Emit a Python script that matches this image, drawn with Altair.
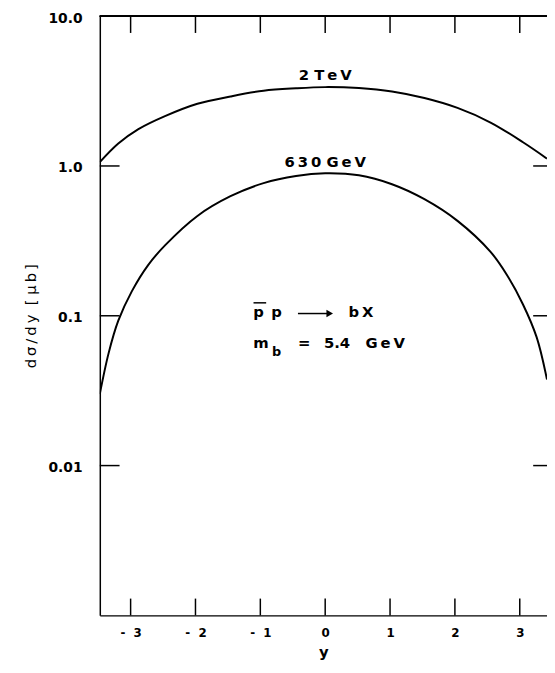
import altair as alt
import pandas as pd

# ---- data ----
x_2tev = [-3.475, -3.19, -2.88, -2.47, -1.97, -1.46, -0.95, -0.45, 0.0,
          0.52, 1.03, 1.53, 2.04, 2.55, 3.05, 3.42]
v_2tev = [1.06, 1.41, 1.76, 2.15, 2.60, 2.91, 3.18, 3.30, 3.36,
          3.31, 3.14, 2.84, 2.44, 1.95, 1.44, 1.12]

x_630 = [-3.475, -3.34, -3.19, -2.98, -2.73, -2.47, -1.97, -1.46, -0.95, -0.45, 0.0,
         0.52, 1.03, 1.53, 2.04, 2.55, 2.80, 3.05, 3.26, 3.42]
v_630 = [0.030, 0.0561, 0.0927, 0.146, 0.218, 0.295, 0.464, 0.628, 0.768, 0.857, 0.893,
         0.866, 0.755, 0.600, 0.430, 0.267, 0.188, 0.119, 0.072, 0.0375]

x_ticks = [-3, -2, -1, 0, 1, 2, 3]
y_ticks = [0.01, 0.1, 1.0, 10.0]
y_tick_labels = ["0.01", "0.1", "1.0", "10.0"]
x_domain = [-3.475, 3.42]
y_domain = [0.001, 10.0]

TS = "\u2009"   # thin space (letter spacing of the original lettering)
NB = "\u00a0"
curve_labels = ["2" + NB + "T" + TS + "e" + TS + "V", "6" + TS + "3" + TS + "0" + NB + "G" + TS + "e" + TS + "V"]
curve_label_x = [0.0, 0.0]
curve_label_y = [3.75, 0.985]

W, H = 453, 607
FONT = "DejaVu Sans"

df = pd.DataFrame(
    {"x": x_2tev + x_630,
     "v": v_2tev + v_630,
     "s": ["2 TeV"] * len(x_2tev) + ["630 GeV"] * len(x_630)}
)

xs = alt.Scale(domain=x_domain, nice=False, zero=False)
ys = alt.Scale(type="log", domain=y_domain, nice=False)

y_label_expr = "".join(f"abs(datum.value - {v}) < {v * 0.01} ? '{l}' : "
                       for v, l in zip(y_ticks, y_tick_labels)) + "datum.label"

lines = alt.Chart(df).mark_line(color="black", strokeWidth=2, interpolate="catmull-rom", clip=True).encode(
    x=alt.X("x:Q", scale=xs,
            axis=alt.Axis(values=x_ticks, tickSize=0, grid=False, domainColor="black", domainWidth=1.5,
                          labelFont=FONT, labelFontSize=12, labelFontWeight="bold", labelColor="black",
                          labelPadding=12,
                          labelExpr="datum.value < 0 ? '-\u00a0\u00a0' + abs(datum.value) : '' + datum.value",
                          title="y", titleFont=FONT, titleFontSize=15, titleFontWeight="bold",
                          titleColor="black", titleBaseline="alphabetic", titleY=42)),
    y=alt.Y("v:Q", scale=ys,
            axis=alt.Axis(values=y_ticks, tickSize=0, grid=False, domainColor="black", domainWidth=1.5,
                          labelFont=FONT, labelFontSize=14, labelFontWeight="bold", labelColor="black",
                          labelPadding=18, labelOffset=2,
                          labelExpr=y_label_expr,
                          title="d" + TS + "σ" + TS + "/" + TS + "d" + TS + "y" + NB + NB + "[" + NB + "μ" + TS + "b" + TS + "]",
                          titleFont=FONT, titleFontSize=15,
                          titleFontWeight="normal", titleColor="black",
                          titleX=-70, titleY=H / 2, titleAngle=270, titleAlign="center",
                          titleBaseline="middle")),
    detail="s:N",
)

tick_x_df = pd.DataFrame({"t": x_ticks})
tick_y_df = pd.DataFrame({"t": y_ticks[:3]})

top_ticks = alt.Chart(tick_x_df).mark_rule(color="black", strokeWidth=1.5).encode(
    x=alt.X("t:Q", scale=xs), y=alt.value(0), y2=alt.value(17))
bot_ticks = alt.Chart(tick_x_df).mark_rule(color="black", strokeWidth=1.5).encode(
    x=alt.X("t:Q", scale=xs), y=alt.value(H - 17), y2=alt.value(H))
left_ticks = alt.Chart(tick_y_df).mark_rule(color="black", strokeWidth=1.5).encode(
    y=alt.Y("t:Q", scale=ys), x=alt.value(0), x2=alt.value(20))
right_ticks = alt.Chart(tick_y_df).mark_rule(color="black", strokeWidth=1.5).encode(
    y=alt.Y("t:Q", scale=ys), x=alt.value(W - 14), x2=alt.value(W))
top_border = alt.Chart(tick_x_df).mark_rule(color="black", strokeWidth=1.5).encode(
    x=alt.value(0), x2=alt.value(W), y=alt.value(0))

lab_df = pd.DataFrame({"x": curve_label_x, "y": curve_label_y, "t": curve_labels})
curve_text = alt.Chart(lab_df).mark_text(font=FONT, fontSize=15, fontWeight="bold", align="center",
                                         baseline="alphabetic", color="black").encode(
    x=alt.X("x:Q", scale=xs), y=alt.Y("y:Q", scale=ys), text="t:N")

# annotation block:  p̄p ⟶ bX ,  m_b = 5.4 GeV
ann_x = [-1.11, -0.83, 0.36, -1.11, -0.42, -0.02, 0.62]
ann_y = [0.0985, 0.0985, 0.098, 0.0605, 0.0605, 0.0605, 0.0605]
ann_t = ["p", "p", "b" + TS + "X", "m", "=", "5.4", "G" + TS + "e" + TS + "V"]
ann_text = alt.Chart(pd.DataFrame({"x": ann_x, "y": ann_y, "t": ann_t})).mark_text(
    font=FONT, fontSize=15, fontWeight="bold", align="left", baseline="alphabetic", color="black").encode(
    x=alt.X("x:Q", scale=xs), y=alt.Y("y:Q", scale=ys), text="t:N")
ann_sub = alt.Chart(pd.DataFrame({"x": [-0.82], "y": [0.0538], "t": ["b"]})).mark_text(
    font=FONT, fontSize=13, fontWeight="bold", align="left", baseline="alphabetic", color="black").encode(
    x=alt.X("x:Q", scale=xs), y=alt.Y("y:Q", scale=ys), text="t:N")

bar_df = pd.DataFrame({"x": [-1.105], "x2": [-0.91], "y": [0.122]})
overbar = alt.Chart(bar_df).mark_rule(color="black", strokeWidth=1.5).encode(
    x=alt.X("x:Q", scale=xs), x2="x2:Q", y=alt.Y("y:Q", scale=ys))

arrow_df = pd.DataFrame({"x": [-0.42], "x2": [0.05], "y": [0.1035]})
arrow_line = alt.Chart(arrow_df).mark_rule(color="black", strokeWidth=1.5).encode(
    x=alt.X("x:Q", scale=xs), x2="x2:Q", y=alt.Y("y:Q", scale=ys))
arrow_head = alt.Chart(pd.DataFrame({"x": [0.07], "y": [0.1035]})).mark_point(
    shape="triangle-right", size=60, filled=True, color="black", opacity=1).encode(
    x=alt.X("x:Q", scale=xs), y=alt.Y("y:Q", scale=ys))

chart = alt.layer(
    lines, top_ticks, bot_ticks, left_ticks, right_ticks, top_border,
    curve_text, ann_text, ann_sub, overbar, arrow_line, arrow_head
).properties(
    width=W, height=H,
    padding={"left": 93, "top": 4, "right": 0, "bottom": 46},
    autosize="none",
    background="white",
).configure_view(stroke=None)

chart.save("out.html", embed_options={"renderer": "svg", "actions": False})
